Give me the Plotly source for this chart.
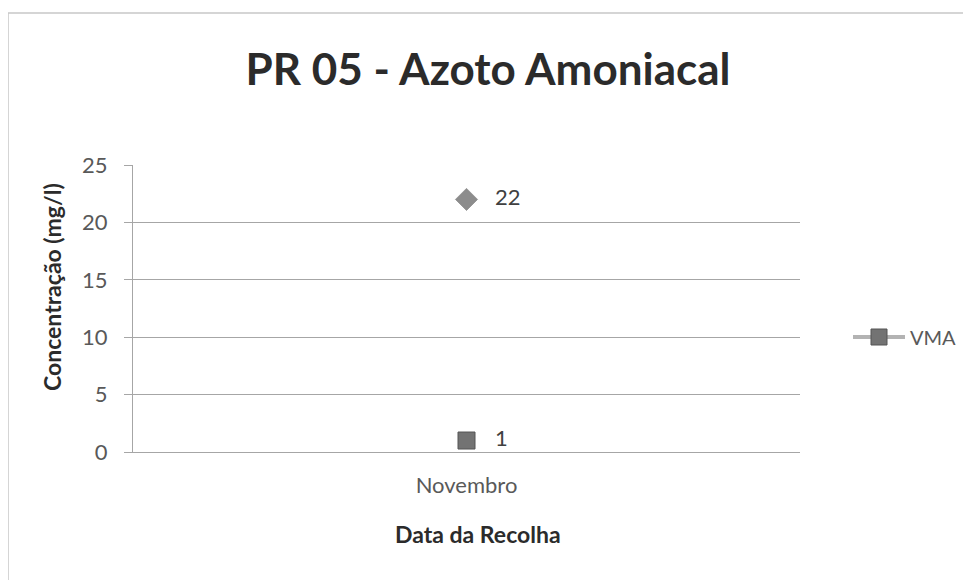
import plotly.graph_objects as go

categories = ["Novembro"]
resultado = [22]
vma = [1]
y_ticks = [0, 5, 10, 15, 20, 25]

FONT = "Lato, 'Open Sans', sans-serif"

# page offset (body margin) compensation: screen = figure + 8
W, H = 971, 580
L, R = 125, 792          # plot area in figure px (x)
T, B = 157, 444          # plot area in figure px (y)
PW, PH = R - L, B - T


def px(x):
    return (x - L) / PW


def py(y):
    return (B - y) / PH


NB = "\u00a0\u00a0\u00a0"

fig = go.Figure()
fig.add_trace(go.Scatter(
    x=categories, y=resultado, mode="markers+text", name="Resultado",
    marker=dict(symbol="diamond", size=17, color="#8c8c8c", line=dict(color="#9a9a9a", width=1)),
    text=[NB + str(v) for v in resultado], textposition="middle right",
    textfont=dict(size=22, color="#404040", family=FONT),
    showlegend=False,
))
fig.add_trace(go.Scatter(
    x=categories, y=vma, mode="lines+markers+text", name="VMA",
    marker=dict(symbol="square", size=17, color="#737373", line=dict(color="#555555", width=1)),
    line=dict(color="#b3b3b3", width=4),
    text=[NB + str(v) for v in vma], textposition="middle right",
    textfont=dict(size=22, color="#404040", family=FONT),
))

fig.update_layout(
    width=W, height=H,
    margin=dict(l=L, r=W - R, t=T, b=H - B),
    paper_bgcolor="white", plot_bgcolor="white",
    font=dict(family=FONT, color="#595959"),
    title=dict(text="<b>PR 05 - Azoto Amoniacal</b>", x=480 / W, xanchor="center",
               y=1 - 62 / H, yanchor="middle",
               font=dict(size=44, color="#2b2b2b", family=FONT)),
    xaxis=dict(type="category", showgrid=False, showline=True, linecolor="#a6a6a6", linewidth=1,
               ticks="", tickfont=dict(size=22, color="#595959"), ticklabelstandoff=14),
    yaxis=dict(range=[0, 25], tickvals=y_ticks, showgrid=True, gridcolor="#a6a6a6", gridwidth=1,
               showline=True, linecolor="#a6a6a6", ticks="outside", ticklen=8, tickcolor="#a6a6a6",
               tickfont=dict(size=22, color="#595959"), zeroline=False, ticklabelstandoff=12),
    legend=dict(x=px(840), y=py(329), xanchor="left", yanchor="middle",
                font=dict(size=20, color="#595959"), bgcolor="rgba(0,0,0,0)", itemwidth=52),
    annotations=[
        dict(text="<b>Concentração (mg/l)</b>", xref="paper", yref="paper",
             x=px(44), y=py(279), textangle=-90, showarrow=False,
             xanchor="center", yanchor="middle", font=dict(size=23, color="#2b2b2b")),
        dict(text="<b>Data da Recolha</b>", xref="paper", yref="paper",
             x=px(470), y=py(526), showarrow=False,
             xanchor="center", yanchor="middle", font=dict(size=23, color="#2b2b2b")),
    ],
    shapes=[dict(type="rect", xref="paper", yref="paper",
                 x0=px(0), x1=px(990), y0=py(600), y1=py(5),
                 line=dict(color="#c8c8c8", width=1.5), layer="below")],
)

fig.write_html("out.html")
